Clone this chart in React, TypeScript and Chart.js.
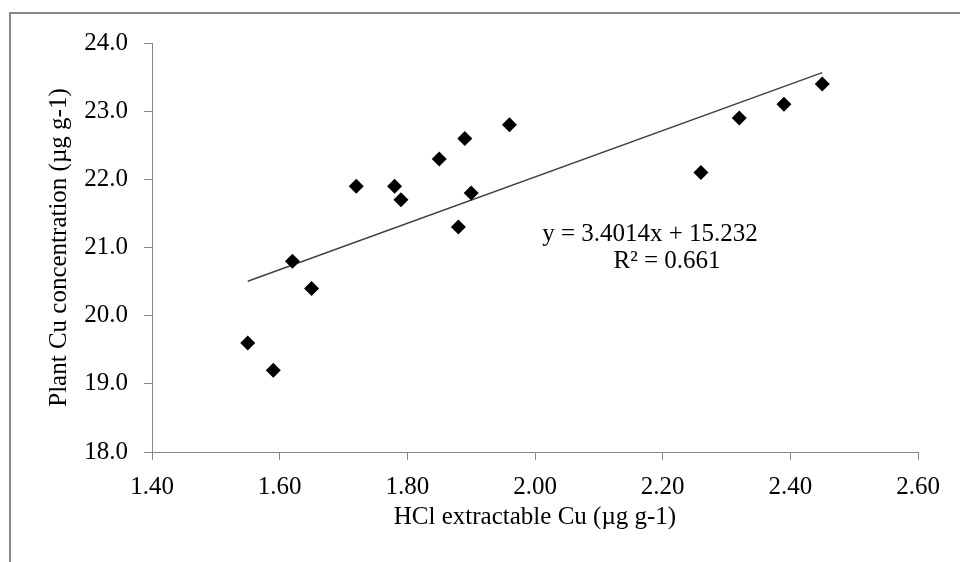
import React, { useEffect, useRef } from "react";
import { Chart, registerables } from "chart.js";

Chart.register(...registerables);

const xValues = [1.55, 1.59, 1.62, 1.65, 1.72, 1.78, 1.79, 1.85, 1.88, 1.89, 1.9, 1.96, 2.26, 2.32, 2.39, 2.45];
const yValues = [19.6, 19.2, 20.8, 20.4, 21.9, 21.9, 21.7, 22.3, 21.3, 22.6, 21.8, 22.8, 22.1, 22.9, 23.1, 23.4];
const trendSlope = 3.4014;
const trendIntercept = 15.232;
const trendX = [1.55, 2.45];
const equationLines = ["y = 3.4014x + 15.232", "R\u00B2 = 0.661"];
const xTitle = "HCl extractable Cu (\u00B5g g-1)";
const yTitle = "Plant Cu concentration (\u00B5g g-1)";

const FONT = "'Liberation Serif', 'Times New Roman', serif";
const AXIS = "#888888";

const framePlugin = {
  id: "frame",
  beforeDraw(chart: any) {
    const ctx = chart.ctx;
    ctx.save();
    ctx.fillStyle = "#ffffff";
    ctx.fillRect(0, 0, chart.width, chart.height);
    ctx.strokeStyle = "#888888";
    ctx.lineWidth = 2;
    ctx.beginPath();
    ctx.moveTo(10, chart.height + 5);
    ctx.lineTo(10, 13);
    ctx.lineTo(chart.width + 5, 13);
    ctx.stroke();
    ctx.restore();
  },
};

const equationPlugin = {
  id: "equation",
  afterDatasetsDraw(chart: any) {
    const ctx = chart.ctx;
    ctx.save();
    ctx.fillStyle = "#000000";
    ctx.font = `25px ${FONT}`;
    ctx.textAlign = "center";
    ctx.textBaseline = "middle";
    ctx.fillText(equationLines[0], 650, 234);
    ctx.fillText(equationLines[1], 667, 261);
    ctx.restore();
  },
};

export default function App() {
  const ref = useRef<HTMLCanvasElement | null>(null);
  useEffect(() => {
    if (!ref.current) return;
    const points = xValues.map((x, i) => ({ x, y: yValues[i] }));
    const trend = trendX.map((x) => ({ x, y: trendSlope * x + trendIntercept }));
    const chart = new Chart(ref.current, {
      type: "scatter",
      data: {
        datasets: [
          {
            label: "data",
            data: points,
            pointStyle: "rectRot",
            pointRadius: 7.5,
            pointHoverRadius: 7.5,
            backgroundColor: "#000000",
            borderColor: "#000000",
            borderWidth: 0,
          },
          {
            label: "trend",
            type: "line",
            data: trend,
            borderColor: "#404040",
            borderWidth: 1.5,
            pointRadius: 0,
            fill: false,
          } as any,
        ],
      },
      options: {
        responsive: false,
        animation: false,
        events: [],
        layout: { padding: { left: 0, top: 43, right: 42, bottom: 0 } },
        plugins: { legend: { display: false }, tooltip: { enabled: false } },
        scales: {
          x: {
            type: "linear",
            min: 1.4,
            max: 2.6,
            afterFit: (s: any) => {
              s.height = 110;
            },
            ticks: {
              stepSize: 0.2,
              color: "#000000",
              padding: 12,
              font: { family: FONT, size: 25 },
              callback: (v: any) => Number(v).toFixed(2),
            },
            grid: { drawOnChartArea: false, color: AXIS, tickLength: 8, lineWidth: 1 },
            border: { display: true, color: AXIS, width: 1 },
            title: {
              display: true,
              text: xTitle,
              color: "#000000",
              font: { family: FONT, size: 25 },
              padding: { top: 0, bottom: 30 },
            },
          },
          y: {
            type: "linear",
            min: 18,
            max: 24,
            afterFit: (s: any) => {
              s.width = 152;
            },
            ticks: {
              stepSize: 1,
              color: "#000000",
              padding: 16,
              font: { family: FONT, size: 25 },
              callback: (v: any) => Number(v).toFixed(1),
            },
            grid: { drawOnChartArea: false, color: AXIS, tickLength: 8, lineWidth: 1 },
            border: { display: true, color: AXIS, width: 1 },
            title: {
              display: true,
              text: yTitle,
              color: "#000000",
              font: { family: FONT, size: 25 },
              padding: { top: 44, bottom: 0 },
            },
          },
        },
      },
      plugins: [framePlugin, equationPlugin],
    });
    return () => chart.destroy();
  }, []);
  return (
    <div style={{ position: "fixed", left: 0, top: 0, width: 960, height: 562 }}>
      <canvas ref={ref} width={960} height={562} style={{ width: 960, height: 562, display: "block" }} />
    </div>
  );
}
